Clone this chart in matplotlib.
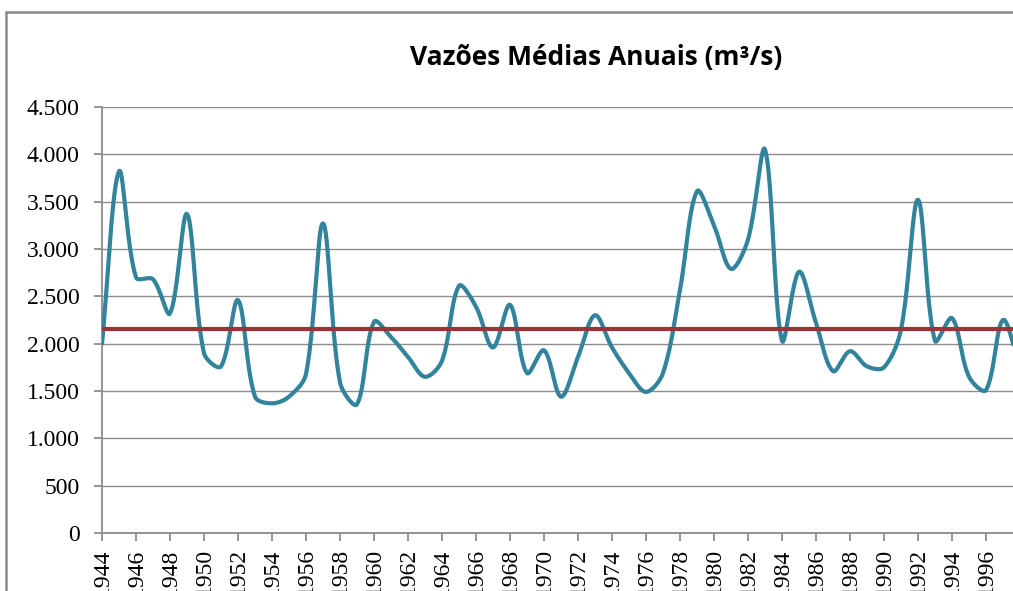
import numpy as np
import matplotlib
matplotlib.use("Agg")
import matplotlib.pyplot as plt
from matplotlib.patches import Rectangle

# Annual mean flows (m3/s)
years = list(range(1944, 1999))
flows = [
    2000, 3820, 2700, 2680, 2320, 3370, 1900, 1760, 2460, 1440,
    1370, 1440, 1680, 3270, 1590, 1360, 2230, 2070, 1860, 1650,
    1820, 2610, 2390, 1960, 2410, 1690, 1930, 1440, 1860, 2300,
    1960, 1690, 1490, 1690, 2570, 3610, 3250, 2790, 3100, 4050,
    2030, 2760, 2220, 1710, 1920, 1760, 1750, 2150, 3520, 2030,
    2270, 1650, 1510, 2250, 1750,
]
mean_flow = [2160] * len(years)
y_ticks = [0, 500, 1000, 1500, 2000, 2500, 3000, 3500, 4000, 4500]
y_labels = ["0", "500", "1.000", "1.500", "2.000", "2.500", "3.000", "3.500", "4.000", "4.500"]
x_ticks = list(range(1944, 1998, 2))

W, H = 1013, 591
PX_YEAR = 17.0          # screen pixels per year
PX_UNIT = 47.3 / 500    # screen pixels per m3/s


def smooth(x, y, n=24):
    # Bezier smoothing in screen space, tangents split by segment length
    # (roughly what Excel's "smoothed line" does)
    x = np.asarray(x, float)
    y = np.asarray(y, float)
    P = np.column_stack([x * PX_YEAR, y * PX_UNIT])
    m = len(P)
    c_out = np.zeros_like(P)
    c_in = np.zeros_like(P)
    for i in range(m):
        a = P[max(i - 1, 0)]
        c = P[min(i + 1, m - 1)]
        d = c - a
        l1 = np.linalg.norm(P[i] - a)
        l2 = np.linalg.norm(c - P[i])
        tot = l1 + l2 if l1 + l2 > 0 else 1.0
        c_out[i] = P[i] + d * (l2 / tot) / 3
        c_in[i] = P[i] - d * (l1 / tot) / 3
    t = np.linspace(0, 1, n, endpoint=False)[:, None]
    pts = []
    for i in range(m - 1):
        p0, p1, p2, p3 = P[i], c_out[i], c_in[i + 1], P[i + 1]
        pts.append((1 - t) ** 3 * p0 + 3 * (1 - t) ** 2 * t * p1
                   + 3 * (1 - t) * t ** 2 * p2 + t ** 3 * p3)
    pts.append(P[-1:])
    pts = np.vstack(pts)
    return pts[:, 0] / PX_YEAR, pts[:, 1] / PX_UNIT


fig = plt.figure(figsize=(W / 100, H / 100), dpi=100)
ax = fig.add_axes([102 / W, (H - 533) / H, (W - 102) / W, (533 - 107) / H])

sx, sy = smooth(years, flows)
ax.plot(sx, sy, color="#31849B", lw=3, solid_capstyle="round", zorder=3)
ax.plot(years, mean_flow, color="#953735", lw=3, zorder=4)

ax.set_ylim(0, 4500)
ax.set_xlim(1944, 1944 + (W - 102) / PX_YEAR)
ax.set_yticks(y_ticks)
ax.set_yticklabels(y_labels)
ax.set_xticks(x_ticks)
ax.set_xticklabels([str(v) for v in x_ticks], rotation=90, va="top")
ax.grid(axis="y", color="#8c8c8c", lw=1.0)
ax.set_axisbelow(True)
for s in ("top", "right"):
    ax.spines[s].set_visible(False)
for s in ("left", "bottom"):
    ax.spines[s].set_color("#8c8c8c")
    ax.spines[s].set_linewidth(1.3)
ax.tick_params(axis="both", color="#8c8c8c", length=6, width=1.3, direction="out",
               labelsize=17)
ax.tick_params(axis="y", pad=10)
ax.tick_params(axis="x", pad=5)
for lab in ax.get_xticklabels() + ax.get_yticklabels():
    lab.set_fontfamily("Liberation Serif")

fig.text(596 / W, 1 - 57 / H, "Vazões Médias Anuais (m³/s)", ha="center", va="center",
         fontsize=19, fontweight="bold", family="Open Sans")

# outer chart border, cut off at right and bottom like the reference
fig.patches.append(Rectangle((6 / W, -0.1), 1.2, 1.1 - 12 / H, transform=fig.transFigure,
                             fill=False, edgecolor="#8a8a8a", lw=1.8))

fig.savefig("out.png", dpi=100)
